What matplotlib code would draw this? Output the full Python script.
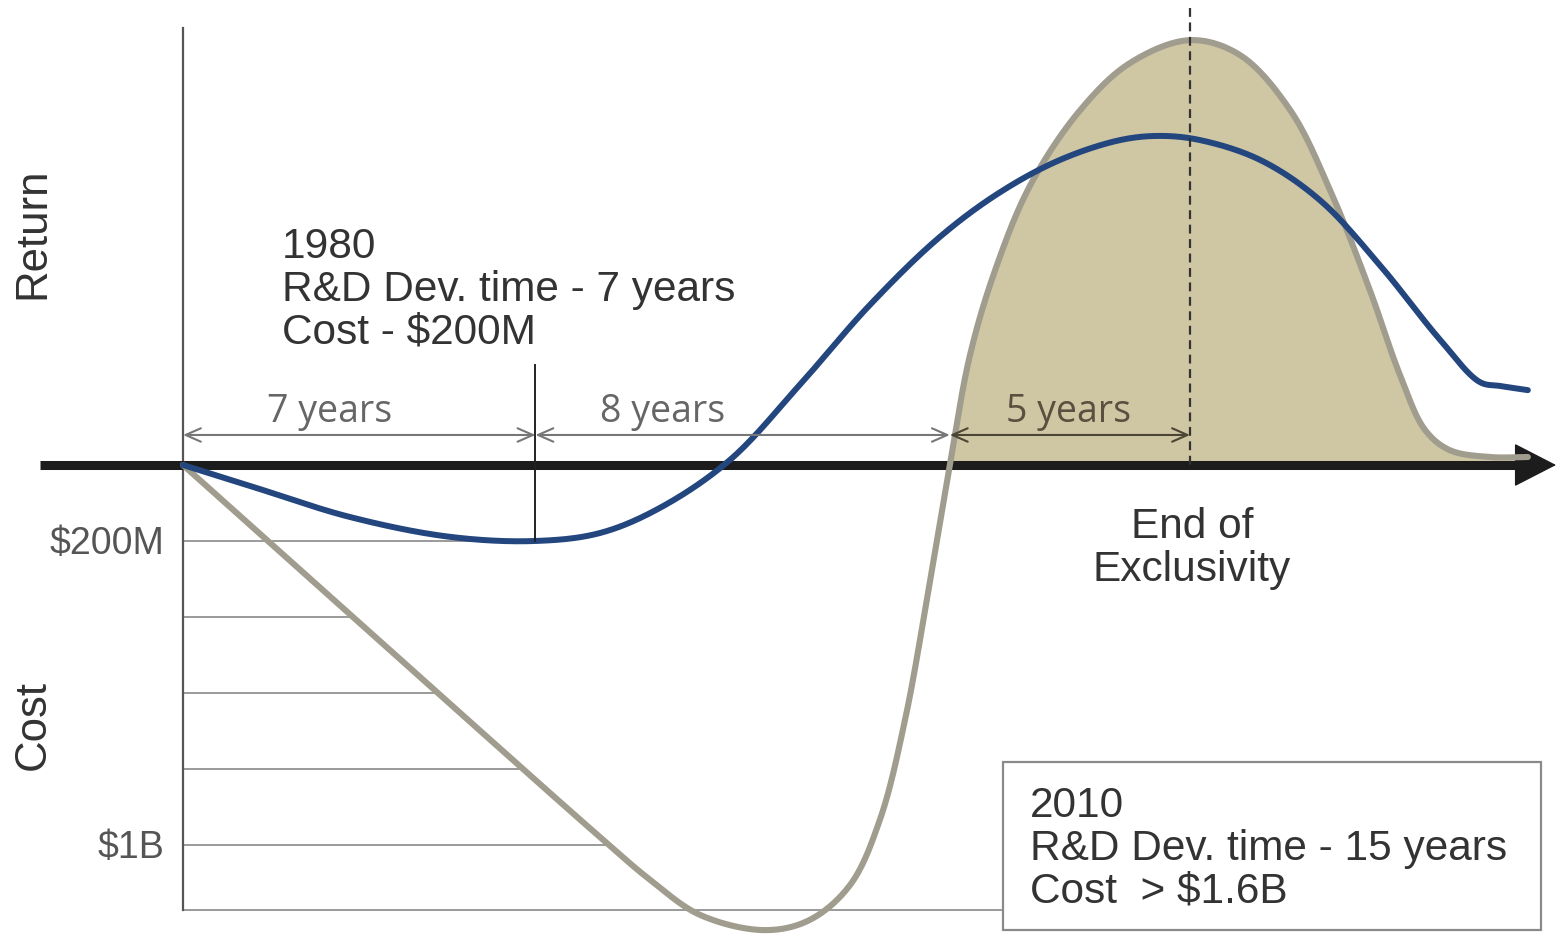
import numpy as np
import matplotlib.pyplot as plt
from matplotlib.patches import Rectangle

# time axis in years, money axis in $M (negative = cost, positive = return)
blue_years = [0, 1.33, 3.32, 5.3, 6.99, 8.28, 9.47, 10.86, 12.25, 13.64, 15.03, 16.23, 17.42,
              18.61, 19.4, 20.2, 21.39, 22.58, 23.77, 24.97, 25.76, 26.16, 26.71]
blue_vals = [0, -55, -137, -189, -200, -179, -113, 13, 211, 421, 600, 718, 803,
             855, 866, 855, 803, 697, 526, 329, 218, 208, 197]

gray_years = [0, 4.31, 8.28, 9.28, 10.27, 11.56, 12.45, 13.25, 13.84, 14.34, 14.84, 15.23,
              15.63, 16.13, 16.83, 17.82, 18.81, 20.0, 20.99, 21.99, 22.78, 23.57, 24.17,
              24.67, 25.16, 25.96, 26.71]
gray_vals = [0, -511, -979, -1092, -1184, -1224, -1197, -1105, -934, -671, -303, 0,
             289, 513, 737, 934, 1058, 1118, 1079, 934, 724, 461, 237,
             92, 39, 21, 21]

grid_vals = [-200, -400, -600, -800, -1000, -1171]
grid_ends = [7.0, 3.4, 5.1, 6.8, 8.5, 16.3]
grid_labels = {-200: "$200M", -1000: "$1B"}

phase_bounds = [0, 7.0, 15.23, 20.0]
phase_labels = ["7 years", "8 years", "5 years"]
phase_label_x = [2.92, 9.53, 17.58]

BLUE = "#23467f"
GRAY = "#a09c8e"
TAN = "#cfc6a3"
TXT = "#333333"

px_year = 50.35
px_m = 0.38


def smooth(xs, ys, n=30):
    # centripetal catmull-rom, worked out in screen-like units
    P = np.column_stack([np.asarray(xs) * px_year, np.asarray(ys) * px_m])
    P = np.vstack([2 * P[0] - P[1], P, 2 * P[-1] - P[-2]])
    out = []
    for i in range(1, len(P) - 2):
        p0, p1, p2, p3 = P[i - 1], P[i], P[i + 1], P[i + 2]
        t0 = 0.0
        t1 = t0 + np.linalg.norm(p1 - p0) ** 0.5
        t2 = t1 + np.linalg.norm(p2 - p1) ** 0.5
        t3 = t2 + np.linalg.norm(p3 - p2) ** 0.5
        t = np.linspace(t1, t2, n, endpoint=False)[:, None]
        a1 = (t1 - t) / (t1 - t0) * p0 + (t - t0) / (t1 - t0) * p1
        a2 = (t2 - t) / (t2 - t1) * p1 + (t - t1) / (t2 - t1) * p2
        a3 = (t3 - t) / (t3 - t2) * p2 + (t - t2) / (t3 - t2) * p3
        b1 = (t2 - t) / (t2 - t0) * a1 + (t - t0) / (t2 - t0) * a2
        b2 = (t3 - t) / (t3 - t1) * a2 + (t - t1) / (t3 - t1) * a3
        out.append((t2 - t) / (t2 - t1) * b1 + (t - t1) / (t2 - t1) * b2)
    out.append(P[-2][None])
    res = np.vstack(out)
    return res[:, 0] / px_year, res[:, 1] / px_m


fig = plt.figure(figsize=(15.56, 9.34), dpi=100)
ax = fig.add_axes([0, 0, 1, 1])
ax.set_xlim(-183 / px_year, (1556 - 183) / px_year)
ax.set_ylim((465 - 934) / px_m, 465 / px_m)
ax.axis("off")

gx, gy = smooth(gray_years, gray_vals)
bx, by = smooth(blue_years, blue_vals)

# tan area for the 2010 return
ax.fill_between(gx, 0, gy, where=gy > 0, interpolate=True, color=TAN, lw=0, zorder=1)

# cost grid lines
for v, e in zip(grid_vals, grid_ends):
    ax.plot([0, e], [v, v], color="#9a9a9a", lw=1.4, zorder=2)
    if v in grid_labels:
        ax.text(-0.36, v - 8, grid_labels[v], ha="right", va="center", fontsize=27,
                color="#555555", family="Liberation Sans")

# vertical axis
ax.plot([0, 0], [1150, -1171], color="#555555", lw=1.6, zorder=3)

# horizontal axis with arrow head
ax.plot([-2.84, 26.8], [0, 0], color="#1c1c1c", lw=6.5, solid_capstyle="butt", zorder=4)
ax.annotate("", xy=(27.27, 0), xytext=(26.4, 0), zorder=4, annotation_clip=False,
            arrowprops=dict(arrowstyle="-|>,head_length=0.7,head_width=0.36", lw=1,
                            color="#1c1c1c", mutation_scale=40, shrinkA=0, shrinkB=0))

ax.plot(gx, gy, color=GRAY, lw=4.4, zorder=5, solid_capstyle="round")
ax.plot(bx, by, color=BLUE, lw=4.3, zorder=6, solid_capstyle="round")

# end of exclusivity marker
ax.plot([20.0, 20.0], [1203, 0], color="#333333", lw=1.6, ls=(0, (4, 2.5)), zorder=7)
ax.plot([7.0, 7.0], [263, -200], color="#222222", lw=1.4, zorder=7)

# phase arrows
for i, lab in enumerate(phase_labels):
    c = "#4b4534" if i == 2 else "#777777"
    ax.annotate("", xy=(phase_bounds[i + 1], 79), xytext=(phase_bounds[i], 79), zorder=7,
                arrowprops=dict(arrowstyle="<->,head_length=0.5,head_width=0.22", lw=1.5,
                                color=c, mutation_scale=22, shrinkA=0, shrinkB=0))
    ax.text(phase_label_x[i], 113, lab, ha="center", va="baseline", fontsize=27,
            color="#5a5040" if i == 2 else "#666666", family="Open Sans", zorder=8)

ax.text(1.97, 626, "1980\nR&D Dev. time - 7 years\nCost - $200M", ha="left", va="top",
        fontsize=30.5, color=TXT, family="Liberation Sans", linespacing=1.08)

ax.text(20.04, -111, "End of\nExclusivity", ha="center", va="top", fontsize=30.5,
        color=TXT, family="Liberation Sans", linespacing=1.1)

box = Rectangle((16.29, -1224), 26.97 - 16.29, 1224 - 781, facecolor="white",
                edgecolor="#8a8a8a", lw=1.6, zorder=9)
ax.add_patch(box)
ax.text(16.82, -845, "2010\nR&D Dev. time - 15 years\nCost  > $1.6B", ha="left", va="top",
        fontsize=30.5, color=TXT, family="Liberation Sans", linespacing=1.08, zorder=10)

ax.text(-2.98, 610, "Return", rotation=90, ha="center", va="center", fontsize=31.5,
        color=TXT, family="Liberation Sans")
ax.text(-2.98, -684, "Cost", rotation=90, ha="center", va="center", fontsize=31.5,
        color=TXT, family="Liberation Sans")

fig.savefig("out.png", dpi=100)
